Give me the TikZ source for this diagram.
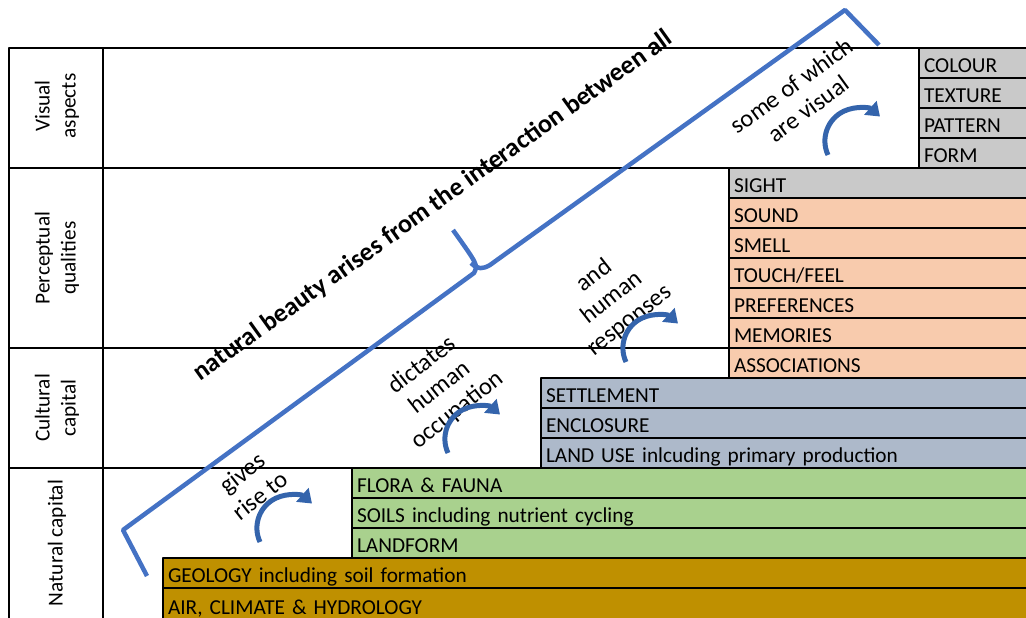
\documentclass[tikz,border=0pt]{standalone}
\usepackage{fontspec}
\setmainfont{Carlito}
\usetikzlibrary{arrows.meta,positioning}

\definecolor{sensegrey}{HTML}{C9C9C9}
\definecolor{sensepeach}{HTML}{F8CBAD}
\definecolor{culturalblue}{HTML}{ADB9CA}
\definecolor{naturalgreen}{HTML}{A9D18E}
\definecolor{groundgold}{HTML}{BF9000}
\definecolor{braceblue}{HTML}{4472C4}
\definecolor{arrowblue}{HTML}{3464AC}

\begin{document}
\begin{tikzpicture}[x=1pt, y=-1pt, font=\fontsize{21.3}{26}\selectfont, line join=round]
	\tikzset{cell/.style={draw=black, line width=1.4pt, anchor=north west, minimum height=30pt, inner xsep=5pt, inner ysep=0pt, outer sep=0pt, text width=#1, text height=20pt, text depth=1pt, align=left}}
	\tikzset{rowlabel/.style={rotate=90, align=center}}
	\tikzset{slant/.style={rotate=38, align=center, inner sep=0pt, font=\fontsize{24.5}{28.5}\selectfont}}
	\tikzset{frame/.style={draw=black, line width=2pt}}
	\tikzset{rowline/.style={draw=black, line width=1.3pt}}
	\tikzset{brace/.style={draw=braceblue, line width=4.5pt}}
	\tikzset{bendarrow/.style={draw=arrowblue, line width=5pt, -{Triangle[length=13pt,width=18pt]}}}

	\useasboundingbox (0,0) rectangle (1026,618);
	\clip (0,0) rectangle (1026,618);

	%TABLA
	\draw[frame] (1030,48) -- (9,48) -- (9,622);
	\draw[frame] (103,48) -- (103,622);
	\draw[rowline] (9,168) -- (1030,168);
	\draw[rowline] (9,348) -- (1030,348);
	\draw[rowline] (9,468) -- (1030,468);

	\node[rowlabel] (visual)     at (57,106) {Visual\\aspects};
	\node[rowlabel] (perceptual) at (57,258) {Perceptual\\qualities};
	\node[rowlabel] (cultural)   at (57,408) {Cultural\\capital};
	\node[rowlabel] (natural)    at (57,543) {Natural capital};

	%CAPAS
	\node[cell=111pt, fill=sensegrey]                       (colour)  at (919,48) {COLOUR};
	\node[cell=111pt, fill=sensegrey, below=0pt of colour]  (texture)           {TEXTURE};
	\node[cell=111pt, fill=sensegrey, below=0pt of texture] (pattern)           {PATTERN};
	\node[cell=111pt, fill=sensegrey, below=0pt of pattern] (form)              {FORM};

	\node[cell=301pt, fill=sensegrey]                           (sight)  at (729,168) {SIGHT};
	\node[cell=301pt, fill=sensepeach, below=0pt of sight]       (sound)        {SOUND};
	\node[cell=301pt, fill=sensepeach, below=0pt of sound]       (smell)        {SMELL};
	\node[cell=301pt, fill=sensepeach, below=0pt of smell]       (touch)        {TOUCH/FEEL};
	\node[cell=301pt, fill=sensepeach, below=0pt of touch]       (preferences)  {PREFERENCES};
	\node[cell=301pt, fill=sensepeach, below=0pt of preferences] (memories)     {MEMORIES};
	\node[cell=301pt, fill=sensepeach, below=0pt of memories]    (associations) {ASSOCIATIONS};

	\node[cell=489pt, fill=culturalblue]                          (settlement) at (541,378) {SETTLEMENT};
	\node[cell=489pt, fill=culturalblue, below=0pt of settlement] (enclosure)  {ENCLOSURE};
	\node[cell=489pt, fill=culturalblue, below=0pt of enclosure]  (landuse)    {LAND USE inlcuding primary production};

	\node[cell=678pt, fill=naturalgreen]                     (flora) at (352,468) {FLORA \& FAUNA};
	\node[cell=678pt, fill=naturalgreen, below=0pt of flora] (soils)    {SOILS including nutrient cycling};
	\node[cell=678pt, fill=naturalgreen, below=0pt of soils] (landform) {LANDFORM};

	\node[cell=867pt, fill=groundgold]                       (geology) at (163,558) {GEOLOGY including soil formation};
	\node[cell=867pt, fill=groundgold, below=0pt of geology, minimum height=34pt] (air) {AIR, CLIMATE \& HYDROLOGY};

	%LLAVE
	\draw[brace] (147,576) -- (123,530) -- (474,273) .. controls (478,265) .. (453,230);
	\draw[brace] (471,263) .. controls (478,270) and (483,269) .. (490,265) -- (845,10) -- (879,45);
	\node[slant, rotate=-2.4, font=\fontsize{26}{30}\selectfont\bfseries] (beauty) at (433,206) {natural beauty arises from the interaction between all};

	%FLECHAS
	\node[slant] (gives)     at (251,484) {gives\\rise to};
	\node[slant] (dictates)  at (440,388) {dictates\\human\\occupation};
	\node[slant] (responses) at (612,298) {and\\human\\responses};
	\node[slant, rotate=-2] (some) at (800,97) {some of which\\are visual};

	\coordinate (a1) at (260,542);
	\coordinate (a2) at (448,453);
	\coordinate (a3) at (626,362);
	\coordinate (a4) at (828,155);
	\foreach \a in {a1,a2,a3,a4}
		\draw[bendarrow] (\a) arc[start angle=205, end angle=48, radius=33pt];
\end{tikzpicture}
\end{document}
